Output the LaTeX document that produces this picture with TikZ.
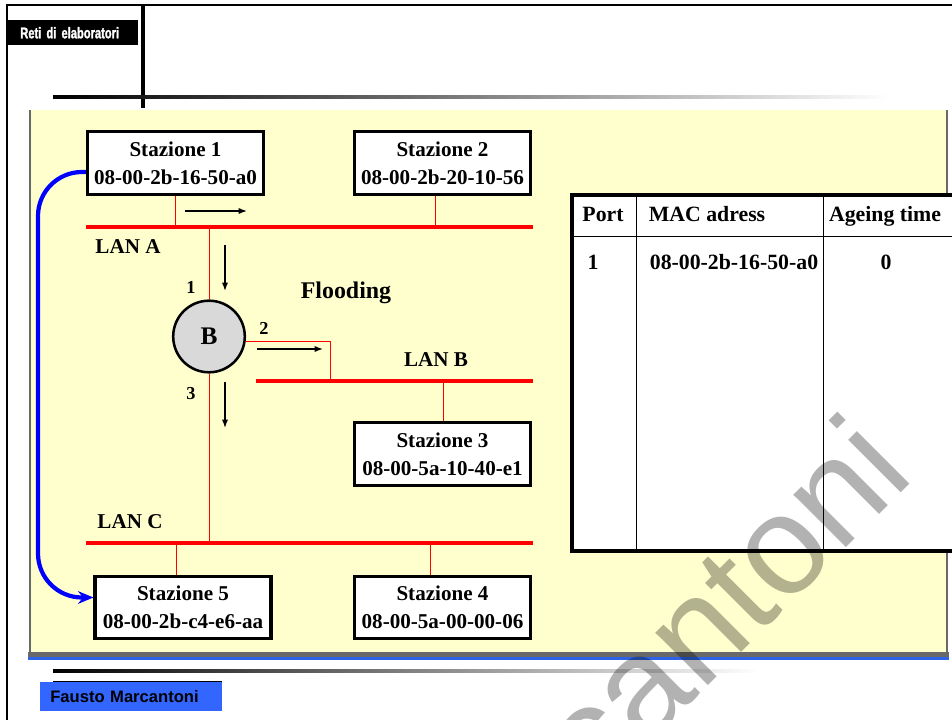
\documentclass[tikz,border=0pt]{standalone}
\usepackage{fontspec}
\setmainfont{Liberation Serif}
\newfontfamily\sansfont{Liberation Sans}
\newfontfamily\narrowfont[FakeStretch=0.72,FakeBold=1.5]{Liberation Sans}
\usepackage{tikz}
\usetikzlibrary{positioning, arrows.meta, calc}
\definecolor{panelyellow}{RGB}{255, 255, 206}
\definecolor{panelgray}{RGB}{105, 105, 105}
\definecolor{paneblue}{RGB}{45, 100, 230}
\definecolor{authorblue}{RGB}{51, 102, 255}
\definecolor{bridgegray}{RGB}{217, 217, 217}
\tikzset{
  station/.style={
    draw=black,
    line width=2.4pt,
    fill=white,
    minimum width=4.39cm,
    minimum height=1.565cm,
    align=center,
    inner sep=1pt,
    font=\fontsize{15}{20}\selectfont\bfseries
  },
  bridge/.style={
    circle,
    draw=black,
    line width=1.8pt,
    fill=bridgegray,
    minimum size=1.79cm,
    font=\fontsize{18}{18}\selectfont\bfseries
  },
  lan/.style={
    draw=red,
    line width=2.3pt
  },
  tap/.style={
    draw=red,
    line width=0.7pt
  },
  flow/.style={
    -{Latex[length=6pt,width=4.5pt]},
    line width=1pt,
    draw=black
  },
  hop/.style={
    -{Stealth[length=11pt,width=9pt]},
    draw=blue,
    line width=3pt,
    rounded corners=1.1cm
  },
  lanname/.style={font=\fontsize{15}{15}\selectfont\bfseries},
  portnum/.style={font=\fontsize{13}{13}\selectfont\bfseries},
  cell/.style={font=\fontsize{15.5}{15.5}\selectfont\bfseries, anchor=base}
}

\begin{document}
\begin{tikzpicture}[x=0.025cm, y=-0.025cm]
  \useasboundingbox (0,0) rectangle (952,720);
  \clip (0,0) rectangle (952,720);

  % slide frame
  \fill[panelyellow] (30,110) rectangle (947,655);
  \draw[panelgray, line width=1.5pt] (30,110) -- (30,655);
  \draw[panelgray, line width=1pt] (947,110) -- (947,655);
  \fill[panelgray] (28,652) rectangle (949,657);
  \fill[paneblue] (28,657) rectangle (949,660);
  \draw[line width=2pt] (7,720) -- (7,5) -- (952,5);
  \draw[line width=2.2pt] (143,5) -- (143,108);
  \shade[left color=black, right color=white] (53,96) rectangle (890,99);
  \shade[left color=black, right color=white] (53,669) rectangle (760,672);
  \draw[line width=1.5pt] (53,682) -- (222,682);
  \node[fill=black, text=white, anchor=north west, minimum height=0.625cm,
        text width=2.65cm, inner xsep=0.3cm, inner ysep=0pt,
        font=\narrowfont\bfseries\fontsize{11}{11}\selectfont] (course) at (8,20) {Reti di elaboratori};
  \node[fill=authorblue, anchor=north west, minimum height=0.725cm,
        text width=4.05cm, inner xsep=0.25cm, inner ysep=0pt,
        font=\sansfont\bfseries\fontsize{11.8}{12}\selectfont] (author) at (40,682) {Fausto Marcantoni};

  % stations and bridge
  \node[station] (st1) at (175.5,163) {Stazione 1\\08-00-2b-16-50-a0};
  \node[station] (st2) at (442.5,163) {Stazione 2\\08-00-2b-20-10-56};
  \node[station] (st3) at (442.5,454) {Stazione 3\\08-00-5a-10-40-e1};
  \node[station] (st5) at (183,607.5) {Stazione 5\\08-00-2b-c4-e6-aa};
  \node[station] (st4) at (442.5,607.5) {Stazione 4\\08-00-5a-00-00-06};
  \node[bridge] (B) at (209,336.5) {B};

  % LANs
  \coordinate (lanA-w) at (86,227);  \coordinate (lanA-e) at (533,227);
  \coordinate (lanB-w) at (256,381); \coordinate (lanB-e) at (533,381);
  \coordinate (lanC-w) at (86,543);  \coordinate (lanC-e) at (533,543);
  \draw[lan] (lanA-w) -- (lanA-e);
  \draw[lan] (lanB-w) -- (lanB-e);
  \draw[lan] (lanC-w) -- (lanC-e);
  \node[lanname] (lanA) at (128,247) {LAN A};
  \node[lanname] (lanB) at (436,360) {LAN B};
  \node[lanname] (lanC) at (130,522) {LAN C};

  % taps
  \coordinate (tapA2) at (435,227);
  \coordinate (tapB) at (330,381);
  \coordinate (tapB3) at (443,381);
  \coordinate (tapC5) at (176,543);
  \coordinate (tapC4) at (430,543);
  \draw[tap] (st1.south) -- (st1.south |- lanA-w);
  \draw[tap] (tapA2) -- (tapA2 |- st2.south);
  \draw[tap] (B.north) -- (B.north |- lanA-w);
  \draw[tap] (B.south) -- (B.south |- lanC-w);
  \draw[tap] (B.-8) -| (tapB);
  \draw[tap] (tapB3) -- (tapB3 |- st3.north);
  \draw[tap] (tapC5) -- (tapC5 |- st5.north);
  \draw[tap] (tapC4) -- (tapC4 |- st4.north);

  % ports and flooding
  \node[portnum] (p1) at (191,287) {1};
  \node[portnum] (p2) at (264,328) {2};
  \node[portnum] (p3) at (191,394) {3};
  \node[font=\fontsize{17}{17}\selectfont\bfseries, anchor=base] (flood) at (346,299) {Flooding};
  \draw[flow] (185,211) -- (247,211);
  \draw[flow] (225,245) -- (225,291);
  \draw[flow] (257,349) -- (323,349);
  \draw[flow] (225,382) -- (225,428);

  % path of the frame
  \coordinate (loop) at (38,400);
  \draw[hop] ($(st1.west)+(0,9)$) -| (loop) |- ($(st5.west)+(0,-10)$);

  % filtering table
  \draw[line width=2.2pt, fill=white] (572,195) rectangle (965,551);
  \draw[line width=0.7pt] (572,236) -- (965,236)
                          (636,195) -- (636,551)
                          (823,195) -- (823,551);
  \node[cell] (hport) at (603,222) {Port};
  \node[cell] (hmac) at (707,222) {MAC adress};
  \node[cell] (hage) at (885,222) {Ageing time};
  \node[cell] (rport) at (593,270) {1};
  \node[cell] (rmac) at (734,270) {08-00-2b-16-50-a0};
  \node[cell] (rage) at (886,270) {0};

  % watermark
  \node[font=\sansfont\fontsize{100}{100}\selectfont, text=black, text opacity=0.3,
        rotate=45, anchor=base east, inner sep=0pt] (mark) at (917,477) {Marcantoni};
\end{tikzpicture}
\end{document}
